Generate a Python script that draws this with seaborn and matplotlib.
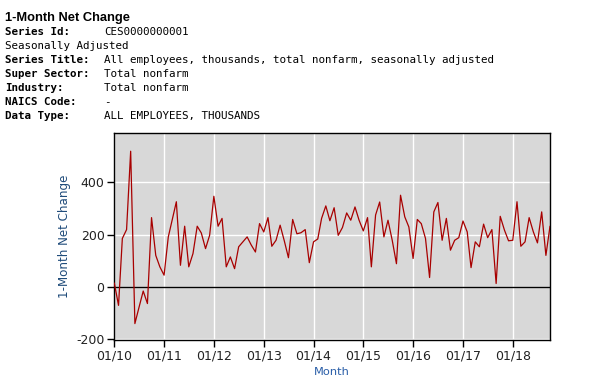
import numpy as np
import pandas as pd
import matplotlib
matplotlib.use("Agg")
import matplotlib.pyplot as plt
import seaborn as sns

# ---- data (1-month net change, thousands), Jan 2010 .. Oct 2018 ----
net_change = [
    14, -72, 185, 219, 520, -142, -80, -17, -65, 265, 120, 76,          # 2010
    44, 191, 255, 326, 82, 232, 76, 127, 232, 206, 146, 197,            # 2011
    347, 232, 262, 76, 114, 69, 153, 172, 191, 160, 133, 242,           # 2012
    210, 265, 155, 178, 236, 175, 111, 258, 203, 207, 219, 92,          # 2013
    172, 183, 262, 310, 253, 303, 197, 227, 283, 255, 306, 255,         # 2014
    214, 265, 76, 275, 325, 191, 255, 178, 88, 351, 268, 229,           # 2015
    108, 258, 242, 185, 35, 287, 323, 178, 262, 140, 178, 188,          # 2016
    252, 210, 73, 172, 153, 240, 188, 219, 12, 270, 217, 176,           # 2017
    178, 326, 155, 172, 265, 210, 168, 287, 120, 232,                   # 2018
]
start_month = "2010-01-01"
tick_years = [2010, 2011, 2012, 2013, 2014, 2015, 2016, 2017, 2018]
tick_labels = ["01/10", "01/11", "01/12", "01/13", "01/14",
               "01/15", "01/16", "01/17", "01/18"]
y_ticks = [-200, 0, 200, 400]
y_tick_labels = ["-200", "0", "200", "400"]

title_text = "1-Month Net Change"
header_labels = ["Series Id:", None, "Series Title:", "Super Sector:",
                 "Industry:", "NAICS Code:", "Data Type:"]
header_values = ["CES0000000001", "Seasonally Adjusted",
                 "All employees, thousands, total nonfarm, seasonally adjusted",
                 "Total nonfarm", "Total nonfarm", "-",
                 "ALL EMPLOYEES, THOUSANDS"]

months = pd.date_range(start_month, periods=len(net_change), freq="MS")
df = pd.DataFrame({"Month": months, "Net Change": net_change})

sns.set_theme(style="white")
plt.rcParams["font.family"] = ["DejaVu Sans"]

W, H = 615, 377
fig = plt.figure(figsize=(W / 100, H / 100), dpi=100)
fig.patch.set_facecolor("white")

left, right, top, bottom = 114.3, 550, 133, 340
ax = fig.add_axes([left / W, 1 - bottom / H, (right - left) / W, (bottom - top) / H])
ax.set_facecolor("#d8d8d8")

sns.lineplot(data=df, x="Month", y="Net Change", ax=ax,
             color="#a80000", linewidth=0.9, zorder=3)
ax.axhline(0, color="black", linewidth=1.0, zorder=2)

ax.set_xlim(months[0], months[-1])
ax.set_ylim(-205, 590)
ax.set_yticks(y_ticks)
ax.set_yticklabels(y_tick_labels)
ax.set_xticks(pd.to_datetime([f"{y}-01-01" for y in tick_years]))
ax.set_xticklabels(tick_labels)

ax.grid(True, color="white", linewidth=1.0, zorder=1)
ax.set_axisbelow(True)
for s in ax.spines.values():
    s.set_color("black")
    s.set_linewidth(1.0)
ax.tick_params(axis="both", direction="out", length=5, width=1, color="black",
               labelsize=9, labelcolor="#222222", pad=2)
ax.tick_params(axis="both", which="both", bottom=True, left=True)

ax.set_ylabel("1-Month Net Change", fontsize=8.6, color="#1f4b7a", labelpad=4)
ax.set_xlabel("Month", fontsize=8.2, color="#2a5ea8", labelpad=3)

# ---- header text ----
fig.text(5 / W, 1 - 18 / H, title_text, fontsize=9.3, fontweight="bold",
         color="black", va="center", ha="left", family="Liberation Sans")
y0 = 32
for i, (lab, val) in enumerate(zip(header_labels, header_values)):
    yy = 1 - (y0 + 14 * i) / H
    if lab is None:
        fig.text(5 / W, yy, val, fontsize=7.85, family="DejaVu Sans Mono",
                 va="center", ha="left", color="black")
    else:
        fig.text(5 / W, yy, lab, fontsize=7.85, family="DejaVu Sans Mono",
                 fontweight="bold", va="center", ha="left", color="black")
        fig.text(104 / W, yy, val, fontsize=7.85, family="DejaVu Sans Mono",
                 va="center", ha="left", color="black")

fig.savefig("out.png", dpi=100)
